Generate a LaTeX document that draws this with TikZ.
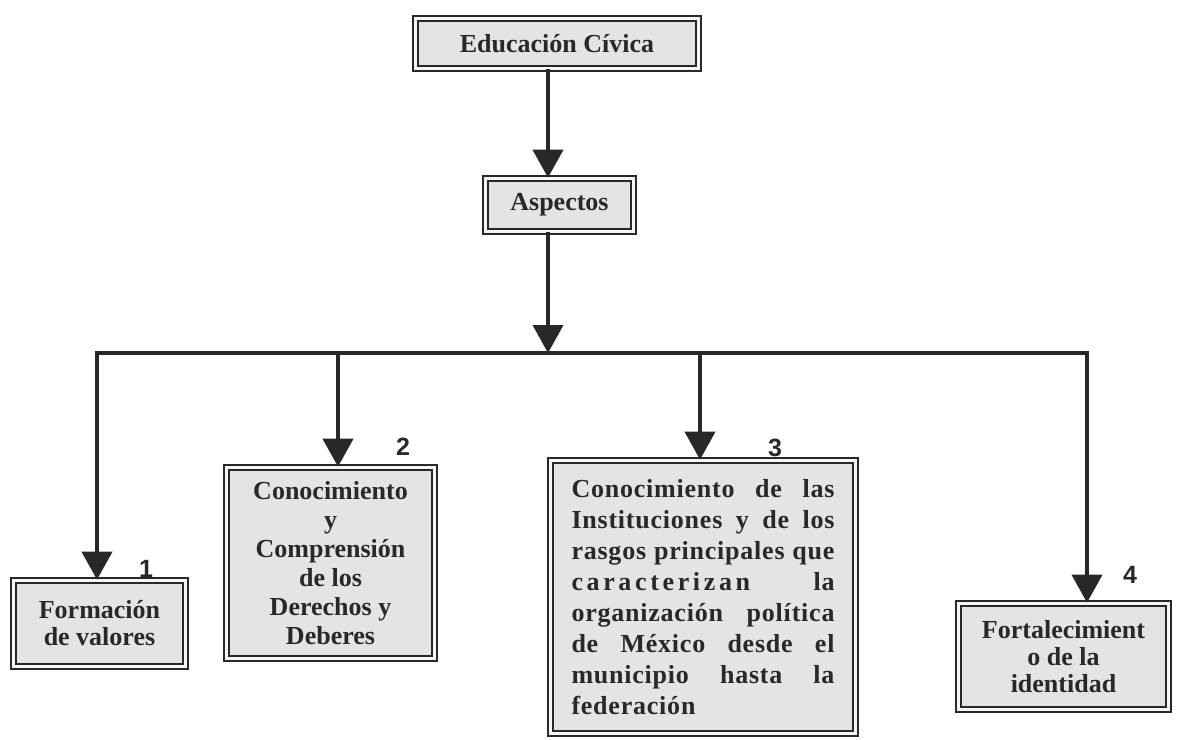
\documentclass[tikz,border=0pt]{standalone}
\usepackage{fontspec}
\setmainfont{Liberation Serif}
\newfontfamily\numfont{Liberation Sans}
\usepackage{tikz}
\usetikzlibrary{arrows.meta,positioning}
\definecolor{boxgray}{RGB}{228,228,228}
\definecolor{gapgray}{RGB}{246,246,246}
\definecolor{inkgray}{RGB}{40,40,40}

\begin{document}
\begin{tikzpicture}[
        x=0.5pt, y=-0.5pt,
        box/.style={draw=inkgray, fill=boxgray, line width=0.8pt, double=gapgray, double distance=1.5pt,
            inner sep=0pt, align=center, text=inkgray, font=\fontsize{13}{14.5}\selectfont\bfseries},
        arrow/.style={-{Triangle[width=15pt,length=14pt]}, line width=2pt, inkgray},
        bus/.style={line width=2pt, inkgray, line cap=rect},
        num/.style={font=\numfont\fontsize{12.5}{13}\selectfont\bfseries, text=inkgray}
    ]
        \useasboundingbox (0,0) rectangle (1178,739);

        % cajas superiores
        \node[box, minimum width=141.5pt, minimum height=25pt] (edu) at (557,43.5) {Educación Cívica};
        \node[box, minimum width=74pt, minimum height=26.5pt] (asp) at (559.5,205) {Aspectos};

        % cajas de los aspectos
        \node[box, minimum width=86pt, minimum height=43pt, font=\fontsize{13}{13.5}\selectfont\bfseries] (val) at (99.5,623.5) {Formación\\de valores};
        \node[box, minimum width=104pt, minimum height=95.5pt] (der) at (330.5,563) {Conocimiento\\y\\Comprensión\\de los\\Derechos y\\Deberes};
        \node[box, minimum width=152.5pt, minimum height=136.5pt, font=\fontsize{13}{15.5}\selectfont\bfseries] (inst) at (703,597) {%
            \parbox{131.5pt}{\addfontfeature{LetterSpace=3}%
            \makebox[\linewidth][s]{Conocimiento de las}\\
            \makebox[\linewidth][s]{Instituciones y de los}\\
            \makebox[\linewidth][s]{rasgos principales que}\\
            \makebox[\linewidth][s]{{\addfontfeature{LetterSpace=14}caracterizan} la}\\
            \makebox[\linewidth][s]{organización política}\\
            \makebox[\linewidth][s]{de México desde el}\\
            \makebox[\linewidth][s]{municipio hasta la}\\
            federación}};
        \node[box, minimum width=105pt, minimum height=53pt, font=\fontsize{13}{13.5}\selectfont\bfseries] (ident) at (1063.5,656.5) {Fortalecimient\\o de la\\identidad};

        % puntos de la linea horizontal
        \coordinate (top) at (548,353);
        \coordinate (j1) at (97,353);
        \coordinate (j2) at (338,353);
        \coordinate (j3) at (700,353);
        \coordinate (j4) at (1087,353);

        % flechas
        \draw[arrow] (edu.south -| top) -- (asp.north -| top);
        \draw[arrow] (asp.south -| top) -- (top);
        \draw[bus] (j1) -- (j4);
        \draw[arrow] (j1) -- (j1 |- val.north);
        \draw[arrow] (j2) -- (j2 |- der.north);
        \draw[arrow] (j3) -- (j3 |- inst.north);
        \draw[arrow] (j4) -- (j4 |- ident.north);

        % numeros
        \node[num] (n1) at (146,569) {1};
        \node[num] (n2) at (403,447) {2};
        \node[num] (n3) at (775,448) {3};
        \node[num] (n4) at (1130,575) {4};
    \end{tikzpicture}
\end{document}
